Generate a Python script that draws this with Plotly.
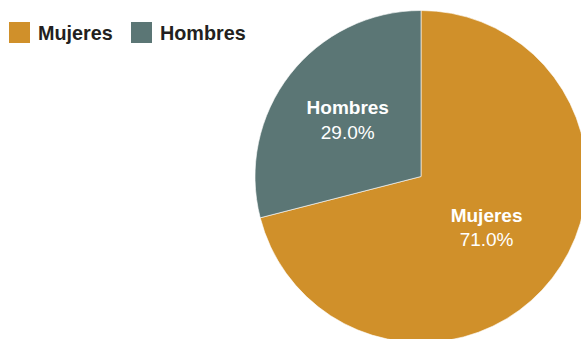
import plotly.graph_objects as go

labels = ["Mujeres", "Hombres"]
values = [71.0, 29.0]
colors = ["#D0902A", "#5B7675"]

W, H = 600, 360
FONT = "Liberation Sans, Arial, sans-serif"

fig = go.Figure()
fig.add_trace(go.Pie(
    labels=labels,
    values=values,
    sort=False,
    direction="clockwise",
    rotation=0,
    marker=dict(colors=colors, line=dict(color="rgba(255,255,255,0.6)", width=1)),
    texttemplate="<b>%{label}</b><br>%{percent:.1%}",
    textposition="inside",
    insidetextorientation="horizontal",
    textfont=dict(family=FONT, size=19, color="white"),
    domain=dict(x=[255 / W, 587 / W], y=[1 - 343 / H, 1 - 10 / H]),
    showlegend=False,
    hoverinfo="label+percent",
))

# manual legend (larger swatches than native pie legend)
leg_x = [9, 131]
for i, (lab, col) in enumerate(zip(labels, colors)):
    x0 = leg_x[i]
    fig.add_shape(type="rect", xref="paper", yref="paper",
                  x0=x0 / W, x1=(x0 + 21) / W, y0=1 - 43 / H, y1=1 - 22 / H,
                  fillcolor=col, line=dict(width=0))
    fig.add_annotation(xref="paper", yref="paper", x=(x0 + 27) / W, y=1 - 33 / H,
                       xanchor="left", yanchor="middle", showarrow=False,
                       text=f"<b>{lab}</b>",
                       font=dict(family=FONT, size=19.8, color="#231F20"))

fig.update_layout(
    width=W, height=H, autosize=False,
    margin=dict(l=0, r=0, t=0, b=0),
    paper_bgcolor="white", plot_bgcolor="white",
    font=dict(family=FONT),
)

fig.write_html("out.html",
               config={"displayModeBar": False},
               post_script="document.body.style.margin='0';document.body.style.overflow='hidden';document.documentElement.style.overflow='hidden';")
